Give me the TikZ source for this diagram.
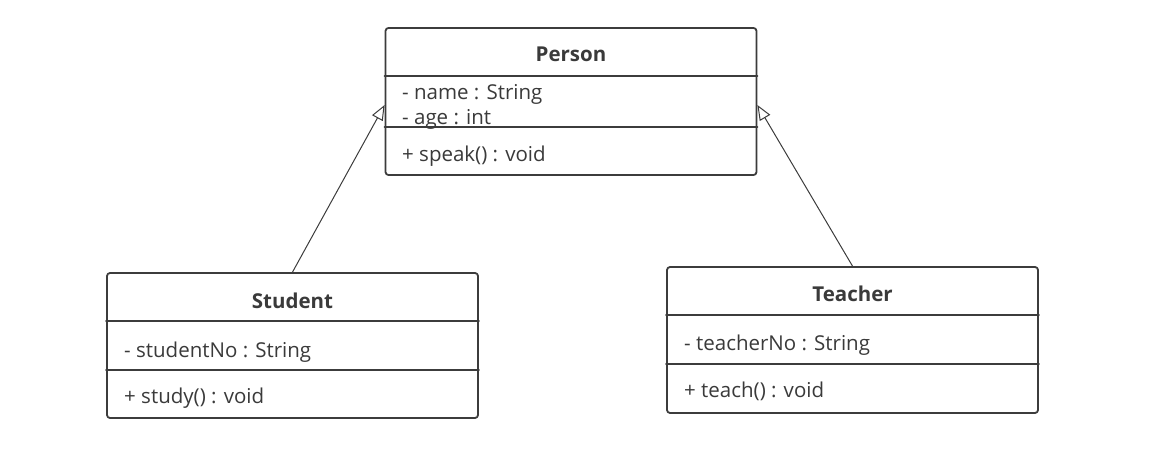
\documentclass[tikz,border=0pt]{standalone}
\usepackage{fontspec}
\setmainfont{Open Sans}
\usetikzlibrary{arrows.meta,calc}
\definecolor{umlline}{HTML}{3C3C3C}
\definecolor{umltext}{HTML}{3A3A3A}
\tikzset{
  classbox/.style={draw=umlline, line width=1.8pt, rounded corners=3pt, fill=white,
    minimum width=371pt, inner sep=0pt},
  divider/.style={draw=umlline, line width=1.8pt},
  classname/.style={font=\fontsize{20.5}{24}\selectfont\bfseries, text=umltext, anchor=base, inner sep=0pt},
  member/.style={font=\fontsize{20.5}{24}\selectfont, text=umltext, anchor=base west, inner sep=0pt},
  extends/.style={draw=umlline, line width=1pt, -{Triangle[open, length=15pt, width=12pt]}}
}
\begin{document}
\begin{tikzpicture}[x=1pt, y=-1pt, line cap=round, line join=round]
\useasboundingbox (0,0) rectangle (1155,462);
% 类框
\node[classbox, minimum height=147pt] (Person)  at (571,101.5) {};
\node[classbox, minimum height=145pt] (Student) at (292.5,345.5) {};
\node[classbox, minimum height=146pt] (Teacher) at (852.5,340) {};
% 分隔线
\draw[divider] ($(Person.north west)+(0,49)$)  -- ($(Person.north east)+(0,49)$);
\draw[divider] ($(Person.north west)+(0,100)$) -- ($(Person.north east)+(0,100)$);
\draw[divider] ($(Student.north west)+(0,49)$) -- ($(Student.north east)+(0,49)$);
\draw[divider] ($(Student.north west)+(0,98)$) -- ($(Student.north east)+(0,98)$);
\draw[divider] ($(Teacher.north west)+(0,49)$) -- ($(Teacher.north east)+(0,49)$);
\draw[divider] ($(Teacher.north west)+(0,98)$) -- ($(Teacher.north east)+(0,98)$);
% 文字
\node[classname] (PersonName) at (571,62)  {Person};
\node[member]    (PersonA1)   at (402,100) {- name : String};
\node[member]    (PersonA2)   at (402,125) {- age : int};
\node[member]    (PersonM1)   at (402,162) {+ speak() : void};
\node[classname] (StudentName) at (292.5,308) {Student};
\node[member]    (StudentA1)   at (124,357)   {- studentNo : String};
\node[member]    (StudentM1)   at (124,403)   {+ study() : void};
\node[classname] (TeacherName) at (852.5,301) {Teacher};
\node[member]    (TeacherA1)   at (684,350)   {- teacherNo : String};
\node[member]    (TeacherM1)   at (684,397)   {+ teach() : void};
% 泛化关系
\draw[extends] (Student.north) -- ($(Person.west)+(0,3.5)$);
\draw[extends] (Teacher.north) -- ($(Person.east)+(0,3.5)$);
\end{tikzpicture}
\end{document}
